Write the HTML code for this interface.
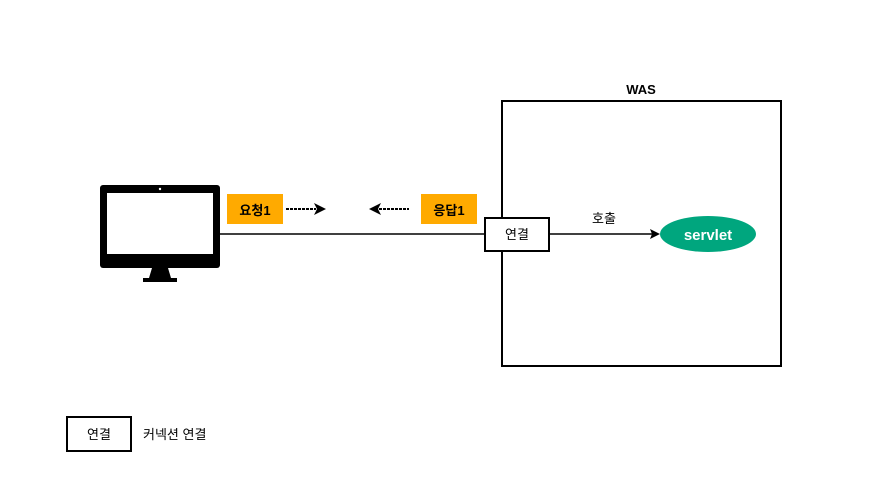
<!DOCTYPE html>
<html><head><meta charset="utf-8"><style>
body{margin:0;background:#fff;}
</style></head><body>
<svg width="874" height="491" xmlns="http://www.w3.org/2000/svg" font-family="Liberation Sans, Noto Sans CJK KR, sans-serif">
<rect x="0" y="0" width="874" height="491" fill="#fff"/>
<rect x="502" y="101" width="279" height="265" fill="none" stroke="#000" stroke-width="2"/>
<text x="641" y="94" font-size="13" font-weight="bold" text-anchor="middle">WAS</text>
<rect x="100" y="185" width="120" height="83" rx="3" fill="#000"/>
<rect x="107" y="193" width="106" height="61" fill="#fff"/>
<circle cx="160" cy="189" r="1.2" fill="#fff"/>
<polygon points="152,268 168,268 171,278 149,278" fill="#000"/>
<rect x="143" y="278" width="34" height="4" fill="#000"/>
<line x1="220" y1="234" x2="484" y2="234" stroke="#000" stroke-width="1.5"/>
<line x1="549" y1="234" x2="652" y2="234" stroke="#000" stroke-width="1.5"/>
<polygon points="660,234 650,229 652,234 650,239" fill="#000"/>
<text x="604" y="223" font-size="13" text-anchor="middle">호출</text>
<ellipse cx="708" cy="234" rx="48" ry="18" fill="#00a67e"/>
<text x="708" y="240" font-size="15" font-weight="bold" fill="#fff" text-anchor="middle">servlet</text>
<rect x="227" y="194" width="56" height="30" fill="#ffaa00"/>
<text x="255" y="215" font-size="13" font-weight="bold" text-anchor="middle">요청1</text>
<rect x="421" y="194" width="56" height="30" fill="#ffaa00"/>
<text x="449" y="215" font-size="13" font-weight="bold" text-anchor="middle">응답1</text>
<line x1="286" y1="209" x2="316" y2="209" stroke="#000" stroke-width="2" stroke-dasharray="3,1"/>
<polygon points="326,209 314,203 317,209 314,215" fill="#000"/>
<line x1="379" y1="209" x2="409" y2="209" stroke="#000" stroke-width="2" stroke-dasharray="3,1"/>
<polygon points="369,209 381,203 378,209 381,215" fill="#000"/>
<rect x="485" y="218" width="64" height="33" fill="#fff" stroke="#000" stroke-width="2"/>
<text x="517" y="239" font-size="13" text-anchor="middle">연결</text>
<rect x="67" y="417" width="64" height="34" fill="#fff" stroke="#000" stroke-width="2"/>
<text x="99" y="439" font-size="13" text-anchor="middle">연결</text>
<text x="143" y="439" font-size="13">커넥션 연결</text>
</svg>
</body></html>
